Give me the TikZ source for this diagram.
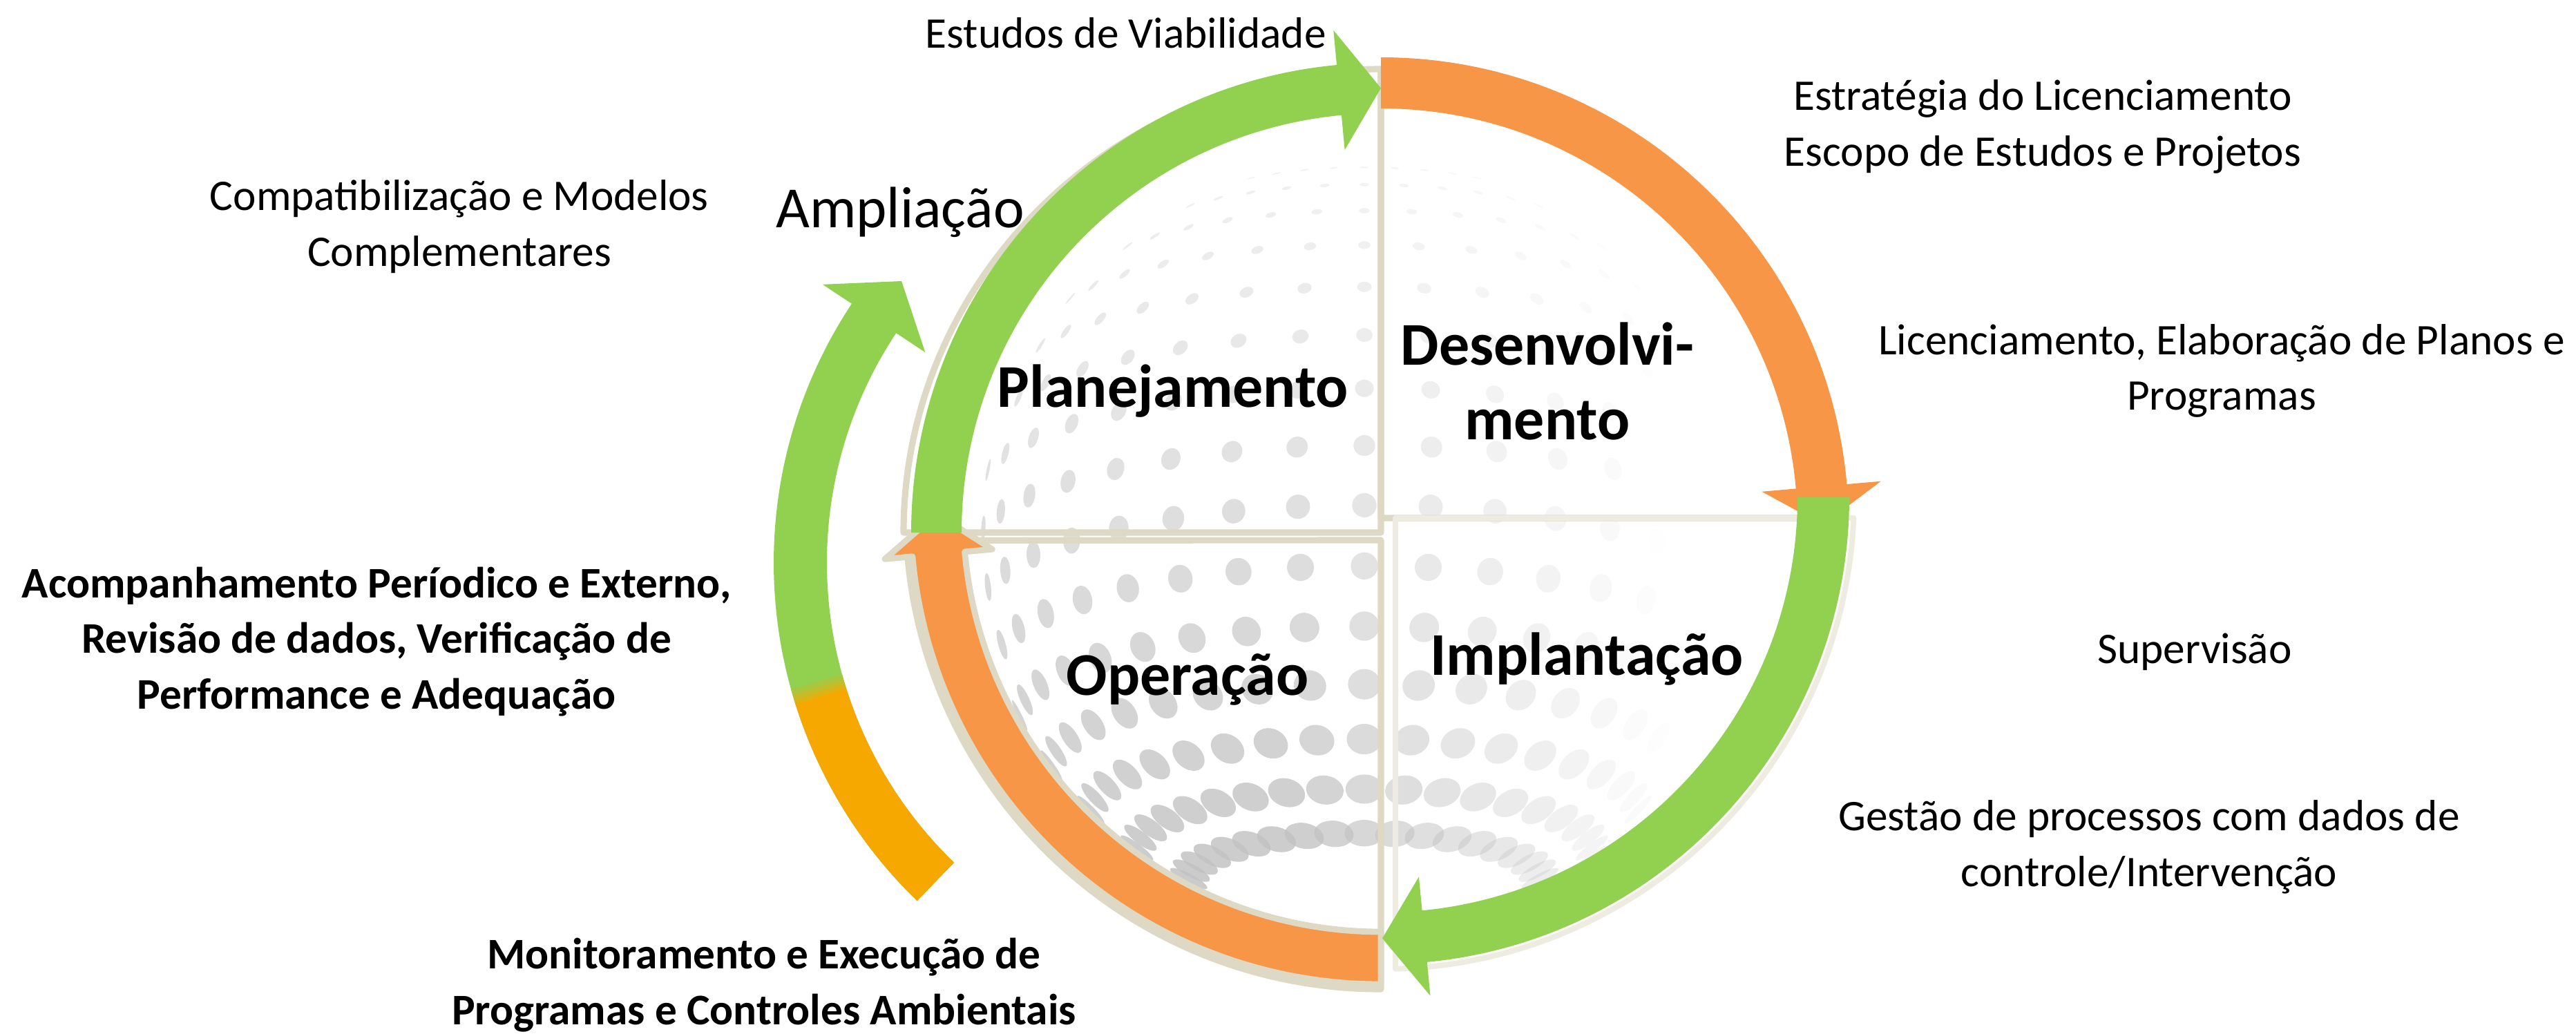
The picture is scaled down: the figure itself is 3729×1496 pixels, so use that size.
\documentclass[tikz,border=0pt]{standalone}
\usepackage{fontspec}
\setmainfont{Carlito}
\usepackage{tikz}
\usetikzlibrary{positioning, calc}

\definecolor{ringgreen}{HTML}{92D050}
\definecolor{ringorange}{HTML}{F79646}
\definecolor{amber}{HTML}{F6A800}
\definecolor{beige}{HTML}{DDD9C4}
\definecolor{lightbeige}{HTML}{EEECE1}

\tikzstyle{note} =
[
	align=center, inner sep=0pt,
	font=\fontsize{18}{23}\selectfont
]
\tikzstyle{boldnote} =
[
	align=center, inner sep=0pt,
	font=\fontsize{18}{23}\selectfont\bfseries
]
\tikzstyle{phasetext} =
[
	align=center, inner sep=0pt,
	font=\fontsize{25}{30.5}\selectfont\bfseries
]
\tikzstyle{pieline}   = [draw=beige, line width=2.6pt]
\tikzstyle{lightline} = [draw=lightbeige, line width=2.3pt]
\tikzstyle{greenarc}  = [fill=ringgreen]
\tikzstyle{orangearc} = [fill=ringorange]
\tikzstyle{framedarc} = [fill=ringorange, draw=beige, line width=2.5pt]

% style, centre, inner r, outer r, start, base of head, tip, half head
\newcommand{\ringarrow}[8]{%
	\path[#1] ([shift={#2}]#5:#3) arc[start angle=#5, end angle=#6, radius=#3]
		-- ([shift={#2}]#6:{(#3+#4)/2-#8})
		-- ([shift={#2}]#7:{(#3+#4)/2})
		-- ([shift={#2}]#6:{(#3+#4)/2+#8})
		-- ([shift={#2}]#6:#4) arc[start angle=#6, end angle=#5, radius=#4] -- cycle;}
\newcommand{\ringband}[6]{%
	\path[#1] ([shift={#2}]#5:#3) arc[start angle=#5, end angle=#6, radius=#3]
		-- ([shift={#2}]#6:#4) arc[start angle=#6, end angle=#5, radius=#4] -- cycle;}

\begin{document}
\begin{tikzpicture}[x=0.01cm, y=-0.01cm, line join=round]

\useasboundingbox (0,0) rectangle (3729,1496);

% dotted sphere, tilted 15 degrees
\begin{scope}
\clip (1999,760) circle[radius=610];
\foreach \la in {-63,-54,...,63}{
	\foreach \lo in {-180,-170,...,170}{
		\pgfmathsetmacro{\px}{cos(\la)*sin(\lo)}
		\pgfmathsetmacro{\py}{sin(\la)*cos(15)-cos(\la)*cos(\lo)*sin(15)}
		\pgfmathsetmacro{\pz}{sin(\la)*sin(15)+cos(\la)*cos(\lo)*cos(15)}
		\pgfmathsetmacro{\op}{(\pz>0.08)*0.9*max(0,min(1,0.8-\px))*(0.25+0.75*(1+\py)/2)}
		\ifdim\op pt>0.02pt
			\pgfmathsetmacro{\ds}{6+26*(1+\py)/2}
			\pgfmathsetmacro{\rx}{0.2845*\ds*\pz}
			\pgfmathsetmacro{\ry}{0.2845*\ds}
			\pgfmathsetmacro{\rot}{-atan2(\py,\px)}
			\fill[black!24, opacity=\op] ({1975+560*\px},{790+560*\py})
				ellipse[x radius=\rx pt, y radius=\ry pt, rotate=\rot];
		\fi
	}
}
\end{scope}

% quadrants
\draw[pieline] (1999,771) -- (1308,771)
	arc[start angle=180, end angle=270, x radius=691, y radius=671] -- cycle;
\draw[pieline] (1999,750) -- (1999,100)
	arc[start angle=270, end angle=360, radius=650] -- cycle;
\draw[pieline] (1999,782) -- ([shift={(1999,744)}]176.8:688)
	arc[start angle=176.8, end angle=90, radius=688] -- cycle;
\draw[lightline] (2020,750) -- ([shift={(2001,720)}]2.5:683)
	arc[start angle=2.5, end angle=88.4, radius=683] -- cycle;

% cycle arrows
\ringarrow{framedarc}{(1999,744)}{605}{681}{90}{174.8}{180}{78}
\ringarrow{greenarc}{(1999,771)}{607}{680}{180}{264.6}{270}{87}
\ringarrow{orangearc}{(1999,760)}{603}{677}{270}{355}{360}{86.5}
\ringarrow{greenarc}{(2001,720)}{601}{676}{0}{84.5}{90}{86.5}

% ampliacao arrow
\ringarrow{greenarc}{(1800,815)}{603}{680}{134}{213.5}{219.5}{89}
\ringband{fill=amber}{(1800,815)}{603}{680}{134}{162.6}
\foreach \a/\b/\c in {162.5/163.2/75, 163.1/163.8/50, 163.7/164.4/25}
	\ringband{fill=amber!\c!ringgreen}{(1800,815)}{603}{680}{\a}{\b};

% phases
\node[phasetext] (plan)  at (1698,566) {Planejamento};
\node[phasetext] (desen) at (2240,552) {Desenvolvi-\\mento};
\node[phasetext] (oper)  at (1719,984) {Operação};
\node[phasetext] (impl)  at (2297,954) {Implantação};

% notes
\node[note] (viab)   at (1630,48)   {Estudos de Viabilidade};
\node[note] (estrat) at (2957,183)  {Estratégia do Licenciamento\\Escopo de Estudos e Projetos};
\node[note] (licen)  at (3216,537)  {Licenciamento, Elaboração de Planos e\\Programas};
\node[note] (superv) at (3177,944)  {Supervisão};
\node[note] (gestao) at (3111,1226) {Gestão de processos com dados de\\controle/Intervenção};
\node[note] (compat) at (665,328)   {Compatibilização e Modelos\\Complementares};
\node[note, font=\fontsize{24}{29}\selectfont] (ampl) at (1303,307) {Ampliação};
\node[boldnote] (acomp) at (545,929) {Acompanhamento Períodico e Externo,\\Revisão de dados, Verificação de\\Performance e Adequação};
\node[boldnote] (monit) at (1106,1426) {Monitoramento e Execução de\\Programas e Controles Ambientais};

\end{tikzpicture}
\end{document}
